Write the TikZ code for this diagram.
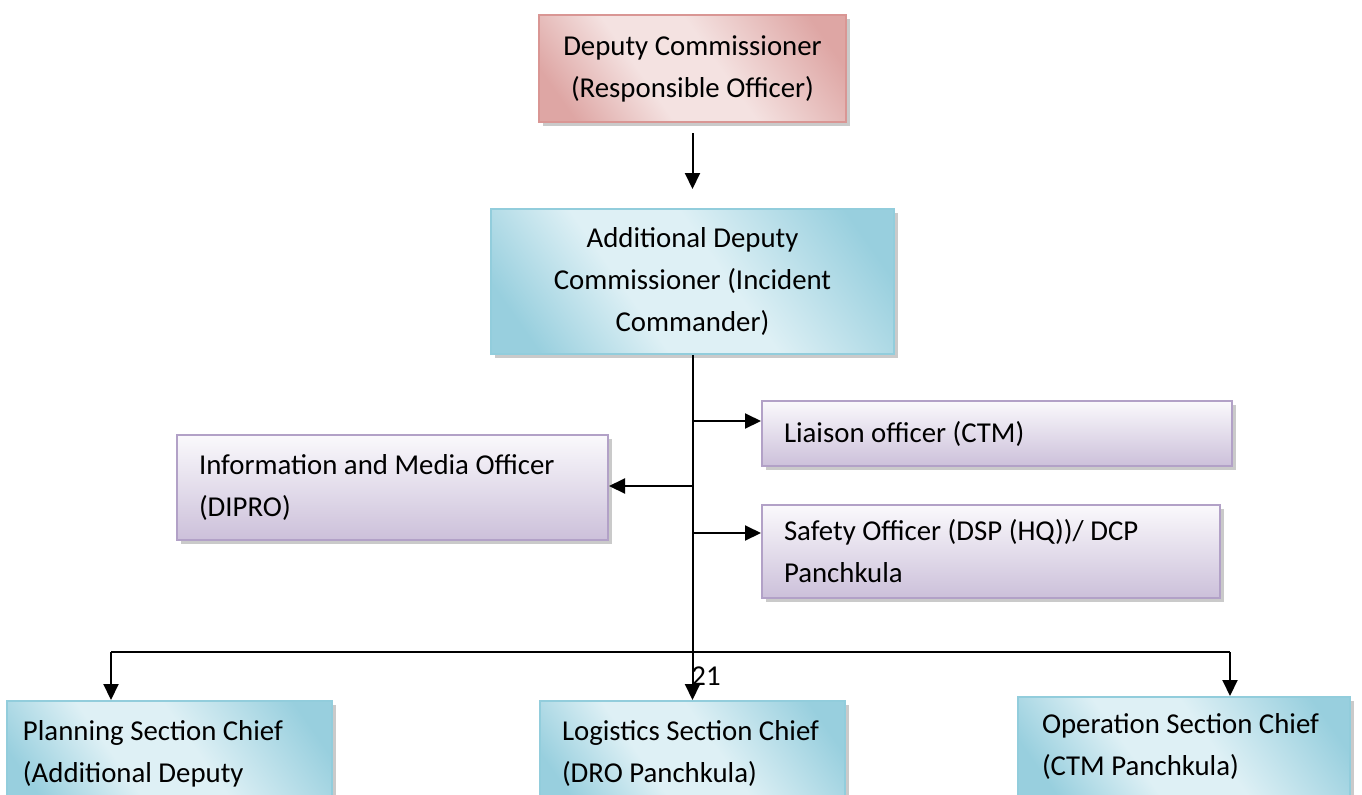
\documentclass[tikz,border=0pt]{standalone}
\usepackage{fontspec}
\setmainfont{Carlito}
\usetikzlibrary{arrows.meta, positioning, shadows}

\definecolor{redline}{RGB}{217,150,148}
\definecolor{reddark}{RGB}{222,166,164}
\definecolor{redlight}{RGB}{244,226,225}
\definecolor{blueline}{RGB}{146,205,220}
\definecolor{bluedark}{RGB}{152,207,222}
\definecolor{bluelight}{RGB}{222,240,245}
\definecolor{purpleline}{RGB}{178,161,199}
\definecolor{purpletop}{RGB}{250,249,252}
\definecolor{purplebottom}{RGB}{204,192,218}

\pgfdeclarehorizontalshading{redband}{100bp}{color(0bp)=(reddark); color(22bp)=(reddark); color(40bp)=(redlight); color(55bp)=(redlight); color(78bp)=(reddark); color(100bp)=(reddark)}
\pgfdeclarehorizontalshading{blueband}{100bp}{color(0bp)=(bluedark); color(22bp)=(bluedark); color(40bp)=(bluelight); color(55bp)=(bluelight); color(78bp)=(bluedark); color(100bp)=(bluedark)}

\tikzset{
    box/.style={line width=1pt, font=\fontsize{14.4pt}{21pt}\selectfont,
        drop shadow={shadow xshift=1.8pt, shadow yshift=-2pt, fill=gray!70, opacity=0.6}},
    redbox/.style={box, draw=redline, shade, shading=redband, shading angle=35, align=center},
    bluebox/.style={box, draw=blueline, shade, shading=blueband, shading angle=35},
    purplebox/.style={box, draw=purpleline, top color=purpletop, bottom color=purplebottom, align=flush left, inner xsep=11pt},
    arr/.style={-{Triangle[length=8pt, width=7.5pt]}, line width=1pt}
}

\begin{document}
\begin{tikzpicture}[x=0.5pt, y=-0.5pt]
        \clip (0,0) rectangle (1362,794);

        \node[redbox, minimum width=153.5pt, minimum height=53.5pt] (dc) at (692.5,68.5) {Deputy Commissioner\\(Responsible Officer)};
        \node[bluebox, align=center, minimum width=201.5pt, minimum height=72.5pt] (adc) at (692.5,281.5) {Additional Deputy\\Commissioner (Incident\\Commander)};

        \node[purplebox, text width=213pt, minimum height=32.5pt] (liaison) at (997,433.5) {Liaison officer (CTM)};
        \node[purplebox, text width=193.5pt, minimum height=52.5pt] (info) at (392.5,487.5) {Information and Media Officer\\(DIPRO)};
        \node[purplebox, text width=207pt, minimum height=46.5pt] (safety) at (991,551.5) {Safety Officer (DSP (HQ))/ DCP\\Panchkula};

        \node[bluebox, align=flush left, inner xsep=8pt, text width=146.5pt, minimum height=52.5pt] (planning) at (169.5,753.5) {Planning Section Chief\\(Additional Deputy};
        \node[bluebox, align=flush left, inner xsep=11pt, text width=130.5pt, minimum height=52.5pt] (logistics) at (692.5,753.5) {Logistics Section Chief\\(DRO Panchkula)};
        \node[bluebox, align=flush left, inner xsep=12pt, text width=142pt, minimum height=49.5pt] (operation) at (1184,746.5) {Operation Section Chief\\(CTM Panchkula)};

        \node[font=\fontsize{14.4pt}{17pt}\selectfont] (pagenum) at (706,676) {21};

        \coordinate (toliaison) at (692.5,421);
        \coordinate (toinfo) at (692.5,486);
        \coordinate (tosafety) at (692.5,533);
        \coordinate (busleft) at (111,652);
        \coordinate (busright) at (1230,652);

        \draw[arr, shorten <=5pt, shorten >=9.5pt] (dc) -- (adc);
        \draw[arr] (adc) -- (logistics);
        \draw[arr] (toliaison) -- (toliaison -| liaison.west);
        \draw[arr] (toinfo) -- (toinfo -| info.east);
        \draw[arr] (tosafety) -- (tosafety -| safety.west);
        \draw[line width=1pt] (busleft) -- (busright);
        \draw[arr] (busleft) -- (busleft |- planning.north);
        \draw[arr] (busright) -- (busright |- operation.north);
    \end{tikzpicture}
\end{document}
